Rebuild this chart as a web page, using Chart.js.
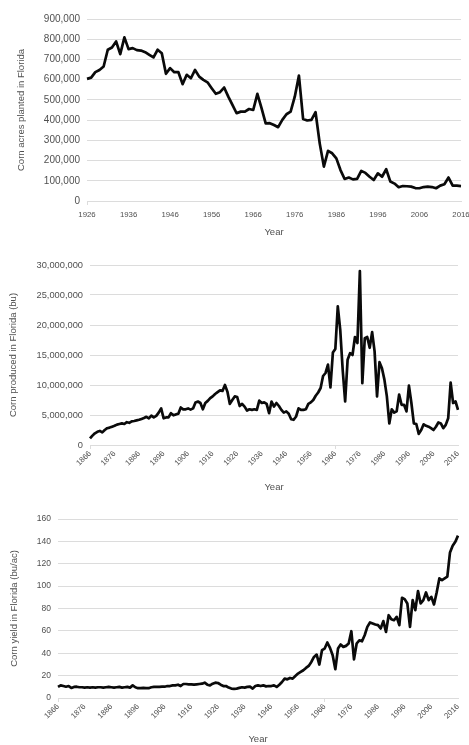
<!DOCTYPE html>
<html>
<head>
<meta charset="utf-8">
<script src="https://cdn.jsdelivr.net/npm/chart.js@4.4.1/dist/chart.umd.min.js"></script>
<style>
  body { margin: 0; background: #fff; }
  .box { position: absolute; left: 0; width: 469px; }
</style>
</head>
<body>
<div class="box" style="top:0;height:240px"><canvas id="c1"></canvas></div>
<div class="box" style="top:240px;height:254px"><canvas id="c2"></canvas></div>
<div class="box" style="top:494px;height:251px"><canvas id="c3"></canvas></div>
<script>
// years for the acres chart
const yearsA = [
  1926, 1927, 1928, 1929, 1930, 1931, 1932, 1933, 1934, 1935,
  1936, 1937, 1938, 1939, 1940, 1941, 1942, 1943, 1944, 1945,
  1946, 1947, 1948, 1949, 1950, 1951, 1952, 1953, 1954, 1955,
  1956, 1957, 1958, 1959, 1960, 1961, 1962, 1963, 1964, 1965,
  1966, 1967, 1968, 1969, 1970, 1971, 1972, 1973, 1974, 1975,
  1976, 1977, 1978, 1979, 1980, 1981, 1982, 1983, 1984, 1985,
  1986, 1987, 1988, 1989, 1990, 1991, 1992, 1993, 1994, 1995,
  1996, 1997, 1998, 1999, 2000, 2001, 2002, 2003, 2004, 2005,
  2006, 2007, 2008, 2009, 2010, 2011, 2012, 2013, 2014, 2015,
  2016
];
const acres = [
  604000, 610000, 637000, 648000, 665000, 748000, 759000, 789000, 726000, 809000,
  751000, 756000, 746000, 744000, 736000, 723000, 710000, 748000, 731000, 629000,
  657000, 637000, 637000, 578000, 624000, 607000, 648000, 615000, 599000, 587000,
  558000, 530000, 538000, 561000, 516000, 475000, 434000, 442000, 442000, 455000,
  450000, 530000, 459000, 384000, 385000, 376000, 365000, 401000, 429000, 442000,
  516000, 620000, 406000, 398000, 401000, 439000, 285000, 170000, 248000, 236000,
  211000, 153000, 109000, 116000, 107000, 109000, 149000, 139000, 120000, 104000,
  137000, 120000, 157000, 96000, 86000, 68000, 74000, 73000, 71000, 64000,
  63000, 69000, 71000, 69000, 63000, 76000, 83000, 116000, 76000, 76000,
  74000
];

// years for production and yield
const yearsB = [
  1866, 1867, 1868, 1869, 1870, 1871, 1872, 1873, 1874, 1875,
  1876, 1877, 1878, 1879, 1880, 1881, 1882, 1883, 1884, 1885,
  1886, 1887, 1888, 1889, 1890, 1891, 1892, 1893, 1894, 1895,
  1896, 1897, 1898, 1899, 1900, 1901, 1902, 1903, 1904, 1905,
  1906, 1907, 1908, 1909, 1910, 1911, 1912, 1913, 1914, 1915,
  1916, 1917, 1918, 1919, 1920, 1921, 1922, 1923, 1924, 1925,
  1926, 1927, 1928, 1929, 1930, 1931, 1932, 1933, 1934, 1935,
  1936, 1937, 1938, 1939, 1940, 1941, 1942, 1943, 1944, 1945,
  1946, 1947, 1948, 1949, 1950, 1951, 1952, 1953, 1954, 1955,
  1956, 1957, 1958, 1959, 1960, 1961, 1962, 1963, 1964, 1965,
  1966, 1967, 1968, 1969, 1970, 1971, 1972, 1973, 1974, 1975,
  1976, 1977, 1978, 1979, 1980, 1981, 1982, 1983, 1984, 1985,
  1986, 1987, 1988, 1989, 1990, 1991, 1992, 1993, 1994, 1995,
  1996, 1997, 1998, 1999, 2000, 2001, 2002, 2003, 2004, 2005,
  2006, 2007, 2008, 2009, 2010, 2011, 2012, 2013, 2014, 2015,
  2016
];
const production = [
  1100000, 1560000, 1950000, 2200000, 2350000, 2100000, 2500000, 2800000, 2900000, 3050000,
  3200000, 3400000, 3500000, 3600000, 3500000, 3800000, 3700000, 3950000, 4000000, 4100000,
  4200000, 4350000, 4500000, 4700000, 4450000, 4900000, 4600000, 4850000, 5400000, 6100000,
  4450000, 4600000, 4600000, 5300000, 4950000, 5100000, 5200000, 6250000, 5950000, 5950000,
  6100000, 5900000, 6100000, 7100000, 7250000, 7000000, 5950000, 7000000, 7350000, 7800000,
  8100000, 8500000, 8800000, 9100000, 9000000, 10000000, 8900000, 6850000, 7500000, 8100000,
  8000000, 6500000, 6850000, 6400000, 5750000, 5950000, 5850000, 5950000, 5850000, 7400000,
  7000000, 7100000, 6850000, 5300000, 7250000, 6400000, 7000000, 6500000, 5850000, 5400000,
  5600000, 5200000, 4300000, 4200000, 4750000, 6100000, 5850000, 5850000, 5950000, 6850000,
  7100000, 7500000, 8200000, 8750000, 9500000, 11500000, 12000000, 13400000, 9600000, 15400000,
  16000000, 23100000, 19200000, 12500000, 7250000, 14200000, 15300000, 15000000, 18000000, 17000000,
  29000000, 10300000, 17800000, 18000000, 16200000, 18800000, 15600000, 8100000, 13800000, 12800000,
  10900000, 8100000, 3600000, 5950000, 5400000, 5600000, 8400000, 6700000, 6700000, 5600000,
  9900000, 7000000, 3600000, 3500000, 1850000, 2500000, 3450000, 3200000, 3050000, 2800000,
  2500000, 3050000, 3750000, 3600000, 2800000, 3350000, 4450000, 10400000, 7000000, 7250000,
  5850000
];
const yieldBuAc = [
  9.9, 11.3, 10.7, 10.1, 10.7, 9.0, 9.9, 10.1, 9.6, 9.6,
  9.3, 9.6, 9.3, 9.6, 9.3, 9.6, 9.6, 9.3, 9.6, 9.9,
  9.6, 9.3, 9.6, 9.9, 9.3, 9.6, 9.9, 9.3, 11.3, 9.6,
  8.8, 8.8, 9.0, 8.8, 8.8, 9.6, 9.9, 9.9, 9.9, 10.1,
  10.1, 10.7, 10.7, 11.3, 11.3, 11.9, 10.7, 12.5, 12.5, 12.2,
  12.2, 11.9, 12.2, 12.5, 12.8, 13.7, 11.9, 11.3, 12.8, 13.7,
  13.4, 11.9, 10.7, 10.7, 9.3, 8.4, 8.1, 8.4, 9.0, 9.6,
  9.3, 9.9, 10.1, 8.4, 10.7, 11.3, 10.7, 11.3, 10.4, 10.7,
  10.7, 11.3, 9.9, 11.9, 14.3, 17.3, 16.7, 17.9, 17.3, 19.7,
  21.8, 23.3, 24.8, 26.9, 28.7, 32.2, 36.7, 38.8, 29.9, 42.7,
  44.2, 49.6, 44.8, 38.2, 25.7, 44.2, 47.8, 45.7, 46.6, 48.7,
  59.7, 34.6, 48.7, 51.6, 50.7, 56.1, 63.6, 67.5, 66.6, 65.7,
  65.1, 62.1, 68.7, 59.0, 74.0, 70.4, 69.5, 72.5, 65.1, 89.6,
  88.4, 84.5, 63.6, 87.5, 78.5, 95.5, 84.5, 87.5, 94.3, 87.5,
  90.4, 83.6, 94.3, 106.9, 105.4, 106.9, 108.4, 130.1, 136.1, 139.7,
  145.1
];

// y ranges: [min, max, step]
const acresRange = [0, 900000, 100000];
const productionRange = [0, 30000000, 5000000];
const yieldRange = [0, 160, 20];

const GRID = '#dcdcdc';
const TEXT = '#505050';
const FONT = "'Liberation Sans', Arial, sans-serif";

function makeChart(id, labels, values, range, o) {
  const isMajor = function (i) { return (labels[i] - labels[0]) % 10 === 0; };
  new Chart(document.getElementById(id), {
    type: 'line',
    data: {
      labels: labels,
      datasets: [{
        data: values,
        borderColor: '#0a0a0a',
        borderWidth: 2.7,
        pointRadius: 0,
        tension: 0,
        borderJoinStyle: 'round'
      }]
    },
    options: {
      responsive: true,
      maintainAspectRatio: false,
      animation: false,
      layout: { padding: { top: o.padTop, right: o.padRight, left: 0, bottom: 0 } },
      plugins: { legend: { display: false }, tooltip: { enabled: false } },
      scales: {
        x: {
          offset: false,
          grid: {
            drawOnChartArea: false,
            drawTicks: true,
            tickLength: 4,
            color: function (ctx) { return isMajor(ctx.index) ? GRID : 'rgba(0,0,0,0)'; }
          },
          border: { display: true, color: GRID, width: 1 },
          ticks: {
            autoSkip: false,
            minRotation: o.rot,
            maxRotation: o.rot,
            padding: o.rot ? 0 : 5,
            color: TEXT,
            font: { family: FONT, size: 7.8 },
            callback: function (v, i) { return isMajor(i) ? String(labels[i]) : null; }
          },
          title: {
            display: true, text: 'Year', color: TEXT,
            font: { family: FONT, size: 9.5 },
            padding: { top: 0, bottom: o.xTitlePad }
          },
          afterFit: function (s) { s.height = o.xHeight; s.paddingLeft = 0; s.paddingRight = 0; }
        },
        y: {
          min: range[0], max: range[1],
          grid: { color: GRID, drawTicks: false },
          border: { display: false },
          ticks: {
            stepSize: range[2],
            padding: 7,
            color: TEXT,
            font: { family: FONT, size: o.yFont },
            callback: function (v) { return v.toLocaleString('en-US'); }
          },
          title: {
            display: true, text: o.yTitle, color: TEXT,
            font: { family: FONT, size: 9.5 },
            padding: { top: o.yTitlePad, bottom: 0 }
          },
          afterFit: function (s) { s.width = o.yWidth; s.paddingTop = 0; s.paddingBottom = 0; }
        }
      }
    }
  });
}

makeChart('c1', yearsA, acres, acresRange, {
  padTop: 19, padRight: 8, xHeight: 39, yWidth: 87, rot: 0,
  xTitlePad: 2, yTitlePad: 16, yFont: 10,
  yTitle: 'Corn acres planted in Florida'
});
makeChart('c2', yearsB, production, productionRange, {
  padTop: 25, padRight: 11, xHeight: 49, yWidth: 90, rot: 45,
  xTitlePad: 1, yTitlePad: 7.5, yFont: 9.3,
  yTitle: 'Corn produced in Florida (bu)'
});
makeChart('c3', yearsB, yieldBuAc, yieldRange, {
  padTop: 25, padRight: 11, xHeight: 47, yWidth: 58, rot: 45,
  xTitlePad: 0, yTitlePad: 8.5, yFont: 8.5,
  yTitle: 'Corn yield in Florida (bu/ac)'
});
</script>
</body>
</html>
